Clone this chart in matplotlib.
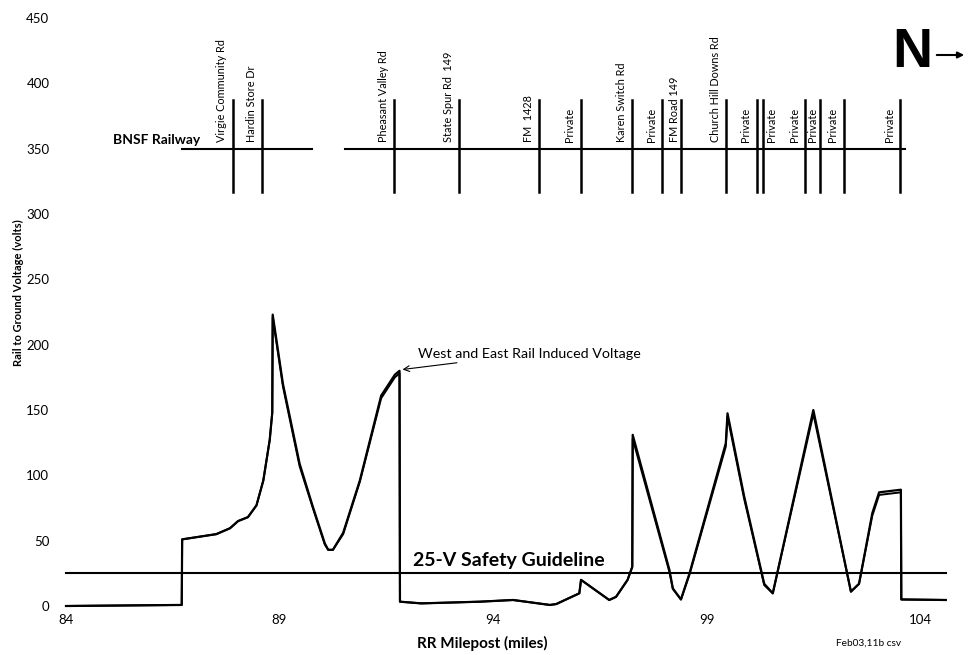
import matplotlib
matplotlib.use("Agg")
import matplotlib.pyplot as plt

# ---- data ----
milepost = [84.0, 86.71, 86.72, 87.52, 87.84, 88.03, 88.26, 88.46, 88.62, 88.77, 88.83, 88.84,
            89.08, 89.47, 89.78, 90.06, 90.14, 90.25, 90.49, 90.88, 91.38, 91.70, 91.81, 91.82,
            92.32, 93.69, 94.47, 95.33, 95.48, 96.02, 96.06, 96.72, 96.88, 97.15, 97.26, 97.27,
            98.13, 98.21, 98.40, 98.60, 99.45, 99.49, 99.88, 100.35, 100.55, 101.50, 102.38,
            102.57, 102.88, 103.04, 103.55, 103.56, 104.60]
west_v = [0.0, 0.8, 51, 55, 59.5, 65, 68, 77, 96, 127, 148, 223,
          170, 109, 76, 48, 43, 43, 56, 96, 161, 177, 180, 3.3,
          2, 3.3, 4.6, 0.8, 1.5, 9.7, 20, 4.6, 7, 20, 30, 131,
          27.6, 13.5, 5, 25, 124.6, 147.5, 84, 17, 9.7, 150, 11,
          17, 71, 87, 89, 5, 4.6]
east_v = [0.0, 0.8, 51, 55, 59.5, 65, 68, 77, 96, 127, 148, 221,
          168, 107, 75, 47, 43, 43, 55, 95, 159, 175, 178, 3.3,
          2, 3.3, 4.6, 0.8, 1.5, 9.7, 20, 4.6, 7, 20, 30, 128,
          26, 13, 5, 24, 122, 145, 82, 16, 9.7, 147, 11,
          17, 69, 85, 87, 5, 4.6]

guideline_v = 25
guideline_x = [84.0, 104.6]

rail_segments = [(86.72, 89.76), (90.53, 103.65)]
rail_y = 350
crossing_y = (317, 387)
crossing_x = [87.90, 88.59, 91.68, 93.20, 95.07, 96.05, 97.26, 97.96, 98.39, 99.45,
              100.17, 100.33, 101.31, 101.65, 102.21, 103.53]
crossing_names = ["Virgie Community Rd", "Hardin Store Dr", "Pheasant Valley Rd",
                  "State Spur Rd  149", "FM  1428", "Private", "Karen Switch Rd", "Private",
                  "FM Road 149", "Church Hill Downs Rd", "Private", "Private", "Private",
                  "Private", "Private", "Private"]

xticks = [84, 89, 94, 99, 104]
yticks = [0, 50, 100, 150, 200, 250, 300, 350, 400, 450]

# ---- figure ----
plt.rcParams['font.family'] = ['Lato', 'DejaVu Sans']
W, H = 968, 655
fig = plt.figure(figsize=(W / 100, H / 100), dpi=100)
ax = fig.add_axes([66 / W, (H - 606) / H, (950 - 66) / W, (606 - 18) / H])
ax.set_xlim(84, 104.7)
ax.set_ylim(0, 450)
for s in ax.spines.values():
    s.set_visible(False)
ax.set_xticks(xticks)
ax.set_yticks(yticks)
ax.tick_params(length=0, labelsize=9.5)
ax.tick_params(axis='y', pad=12)
ax.tick_params(axis='x', pad=6)

ax.plot(milepost, west_v, color='black', lw=1.6, clip_on=False)
ax.plot(milepost, east_v, color='black', lw=1.4, clip_on=False)
ax.plot(guideline_x, [guideline_v, guideline_v], color='black', lw=1.5, clip_on=False)

# railway diagram
for a, b in rail_segments:
    ax.plot([a, b], [rail_y, rail_y], color='black', lw=1.5)
label_shift = {8: -0.14, 11: 0.19, 13: -0.18}
for i, (x, name) in enumerate(zip(crossing_x, crossing_names)):
    ax.plot([x, x], crossing_y, color='black', lw=1.8)
    ax.text(x + label_shift.get(i, -0.25), rail_y + 5, name, rotation=90, ha='center',
            va='bottom', fontsize=7.8)
ax.text(85.1, 357, "BNSF Railway", fontsize=10, fontweight='bold', va='center', ha='left')

ax.text(92.13, 30.6, "25-V Safety Guideline", fontsize=14, fontweight='bold',
        va='baseline', ha='left')

ax.annotate("West and East Rail Induced Voltage", xy=(91.88, 181), xytext=(92.24, 193),
            fontsize=10.3, va='center', ha='left',
            arrowprops=dict(arrowstyle='->', color='black', lw=0.8, shrinkA=1, shrinkB=0))

# North arrow
fig.text(912 / W, 1 - 53 / H, "N", fontsize=40, fontweight='bold', ha='center', va='center',
         family=['Liberation Sans', 'DejaVu Sans'])
fig.patches.append(matplotlib.patches.FancyArrowPatch(
    (934 / W, 1 - 55 / H), (967 / W, 1 - 55 / H), transform=fig.transFigure,
    arrowstyle='-|>', mutation_scale=9, color='black', lw=1.5))

fig.text(18 / W, 1 - 293 / H, "Rail to Ground Voltage (volts)", rotation=90, fontsize=8,
         fontweight='bold', ha='center', va='center')
fig.text(482 / W, 1 - 643 / H, "RR Milepost (miles)", fontsize=11, fontweight='bold',
         ha='center', va='center')
fig.text(869 / W, 1 - 643 / H, "Feb03,11b csv", fontsize=7.3, ha='center', va='center')

fig.savefig("out.png", dpi=100)
